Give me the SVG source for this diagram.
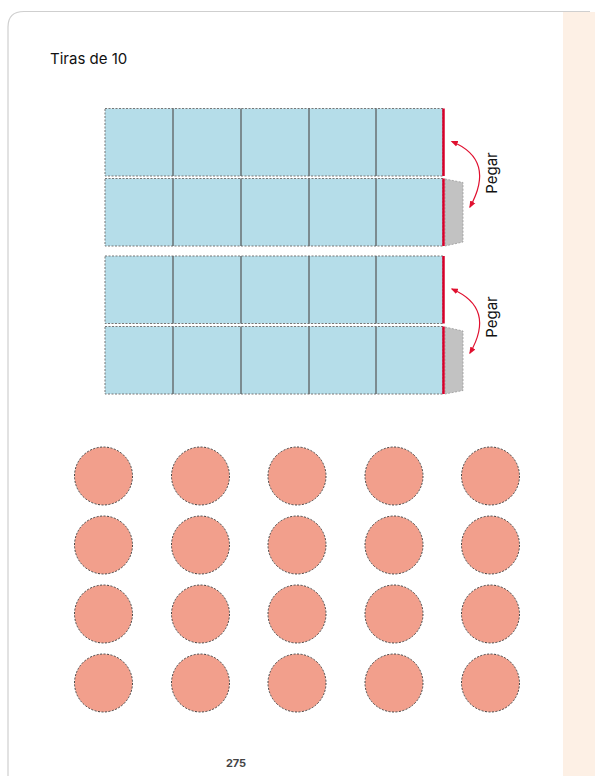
<svg xmlns="http://www.w3.org/2000/svg" width="595" height="776" viewBox="0 0 595 776">
<style>
.strip{fill:#b5dde9;stroke:#777;stroke-width:1;stroke-dasharray:2 1.5}
.div{stroke:#555;stroke-width:1.2}
.red{stroke:#d6002a;stroke-width:2.5}
.tab{fill:#c2c2c2;stroke:#999;stroke-width:0.8;stroke-dasharray:2 1.5}
.arr{fill:none;stroke:#e0102f;stroke-width:1.2}
.peg{font-family:Inter,"Noto Sans",sans-serif;font-size:15px;fill:#111}
.c{fill:#f29f8c;stroke:#444;stroke-width:1;stroke-dasharray:2 1.5}
</style>
<defs>
<marker id="ah" viewBox="0 0 10 10" refX="8" refY="5" markerWidth="6" markerHeight="6" orient="auto-start-reverse">
<path d="M0,1 L10,5 L0,9 Z" fill="#e0102f"/>
</marker>
<g id="strip">
<rect class="strip" x="105" y="0" width="338" height="67.5"/>
<line class="div" x1="173" y1="0" x2="173" y2="67.5"/>
<line class="div" x1="241" y1="0" x2="241" y2="67.5"/>
<line class="div" x1="309" y1="0" x2="309" y2="67.5"/>
<line class="div" x1="376" y1="0" x2="376" y2="67.5"/>
<line class="red" x1="443.5" y1="0" x2="443.5" y2="67.5"/>
</g>
</defs>
<rect x="0" y="0" width="595" height="776" fill="#fff"/>
<rect x="563" y="12" width="32" height="764" fill="#fdf0e5"/>
<path d="M8,776 V27 Q8,11.5 24,11.5 H590" fill="none" stroke="#cfcfcf" stroke-width="1.2"/>
<text x="50" y="64" font-family="Inter,'Noto Sans',sans-serif" font-size="15" fill="#111">Tiras de 10</text>
<g id="strips">
<g id="strip-pair-1">
<use href="#strip" y="108.5"/>
<polygon class="tab" points="445,179 463,182.5 463,242 445,246"/>
<use href="#strip" y="178.5"/>
</g>
<g id="strip-pair-2">
<use href="#strip" y="256"/>
<polygon class="tab" points="445,327 463,331 463,390.5 445,394"/>
<use href="#strip" y="326.5"/>
</g>
</g>
<g id="connectors">
<path class="arr" d="M452,141.5 Q496,160 470,207" marker-start="url(#ah)" marker-end="url(#ah)"/>
<path class="arr" d="M452,289 Q496,308 470,353" marker-start="url(#ah)" marker-end="url(#ah)"/>
</g>
<text class="peg" transform="translate(497,173) rotate(-90)" text-anchor="middle">Pegar</text>
<text class="peg" transform="translate(497,317) rotate(-90)" text-anchor="middle">Pegar</text>
<g id="circles">
<circle class="c" cx="103.5" cy="476" r="29"/><circle class="c" cx="200.5" cy="476" r="29"/><circle class="c" cx="297" cy="476" r="29"/><circle class="c" cx="394" cy="476" r="29"/><circle class="c" cx="490.5" cy="476" r="29"/>
<circle class="c" cx="103.5" cy="545" r="29"/><circle class="c" cx="200.5" cy="545" r="29"/><circle class="c" cx="297" cy="545" r="29"/><circle class="c" cx="394" cy="545" r="29"/><circle class="c" cx="490.5" cy="545" r="29"/>
<circle class="c" cx="103.5" cy="614" r="29"/><circle class="c" cx="200.5" cy="614" r="29"/><circle class="c" cx="297" cy="614" r="29"/><circle class="c" cx="394" cy="614" r="29"/><circle class="c" cx="490.5" cy="614" r="29"/>
<circle class="c" cx="103.5" cy="683" r="29"/><circle class="c" cx="200.5" cy="683" r="29"/><circle class="c" cx="297" cy="683" r="29"/><circle class="c" cx="394" cy="683" r="29"/><circle class="c" cx="490.5" cy="683" r="29"/>
</g>
<text x="236" y="767" text-anchor="middle" font-family="Inter,'Noto Sans',sans-serif" font-size="11" font-weight="bold" fill="#444">275</text>
</svg>
